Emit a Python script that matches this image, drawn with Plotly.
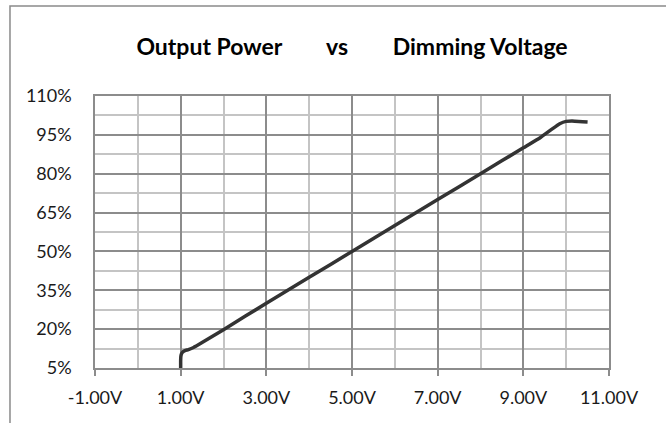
import plotly.graph_objects as go

voltage = [1.0, 1.0, 1.005, 1.02, 1.05, 1.1, 1.18, 1.3, 1.5, 2.0, 3.0, 4.0, 5.0, 6.0, 7.0, 8.0, 9.0, 9.4, 9.65, 9.85, 10.0, 10.2, 10.5]
power = [4.6, 8.0, 9.5, 10.5, 11.2, 11.7, 12.1, 12.9, 14.8, 19.8, 30.0, 40.0, 50.0, 60.0, 70.0, 80.0, 90.0, 94.0, 97.0, 99.3, 100.2, 100.3, 100.0]

x_tickvals = [-1, 1, 3, 5, 7, 9, 11]
x_ticktext = ["-1.00V", "1.00V", "3.00V", "5.00V", "7.00V", "9.00V", "11.00V"]
y_tickvals = [5, 20, 35, 50, 65, 80, 95, 110]
y_ticktext = ["5%", "20%", "35%", "50%", "65%", "80%", "95%", "110%"]

gap = "&nbsp;" * 8
title_text = "Output Power" + gap + "vs" + gap + "Dimming Voltage"

FONT = "Lato, 'Open Sans', sans-serif"

fig = go.Figure()
fig.add_trace(go.Scatter(
    x=voltage, y=power, mode="lines",
    line=dict(color="#333333", width=3.5, shape="spline", smoothing=0.4),
    showlegend=False, hoverinfo="skip", cliponaxis=False,
))

fig.update_layout(
    width=666, height=423,
    margin=dict(l=95, r=57, t=96, b=55),
    paper_bgcolor="white", plot_bgcolor="white",
    font=dict(family=FONT, size=18, color="#1a1a1a"),
    title=dict(text="<b>" + title_text + "</b>", x=0.5, xref="paper", xanchor="center",
               y=1 - 47 / 423, yref="container", yanchor="middle",
               font=dict(family=FONT, size=23, color="#000000")),
    shapes=[dict(type="rect", xref="paper", yref="paper",
                 x0=-0.1654, x1=1.12, y0=-0.23, y1=1.331,
                 line=dict(color="#8a8a8a", width=1.5), layer="below")],
)

fig.update_xaxes(
    range=[-1, 11], tickmode="array", tickvals=x_tickvals, ticktext=x_ticktext,
    showgrid=True, gridcolor="#8c8c8c", gridwidth=1.5,
    minor=dict(dtick=1, tick0=0, showgrid=True, gridcolor="#c4c4c4", gridwidth=1.5, ticks=""),
    showline=True, mirror=True, linecolor="#8c8c8c", linewidth=1.5,
    ticks="outside", ticklen=6, tickcolor="#8c8c8c", tickwidth=1.5,
    ticklabelstandoff=7,
    zeroline=False, fixedrange=True,
)
fig.update_yaxes(
    range=[5, 110], tickmode="array", tickvals=y_tickvals, ticktext=y_ticktext,
    showgrid=True, gridcolor="#8c8c8c", gridwidth=1.5,
    minor=dict(dtick=7.5, tick0=5, showgrid=True, gridcolor="#c4c4c4", gridwidth=1.5, ticks=""),
    showline=True, mirror=True, linecolor="#8c8c8c", linewidth=1.5,
    ticks="", ticklabelstandoff=18,
    zeroline=False, fixedrange=True,
)

fig.write_html("out.html", config={"displayModeBar": False},
               post_script="document.body.style.margin='0';document.body.style.overflow='hidden';")
